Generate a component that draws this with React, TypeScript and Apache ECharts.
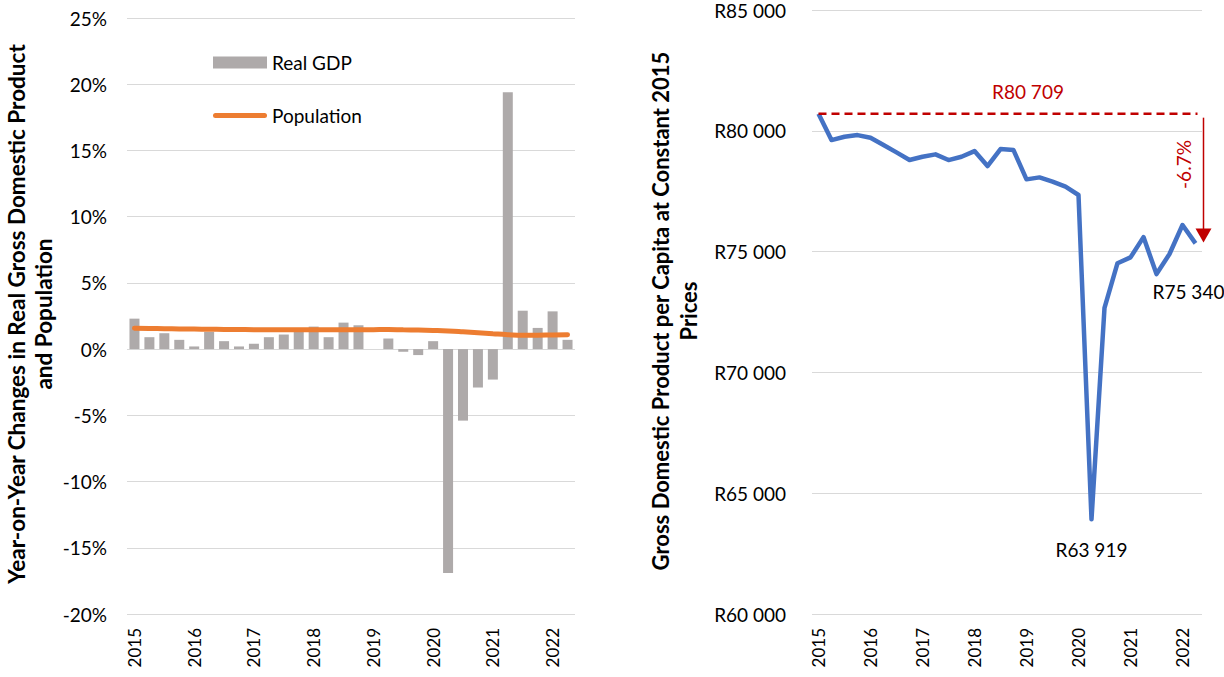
import React, { useEffect, useRef } from "react";
import * as echarts from "echarts";

// Quarterly periods, 2015 Q1 to 2022 Q2
const quarters: string[] = [
  "2015 Q1", "2015 Q2", "2015 Q3", "2015 Q4",
  "2016 Q1", "2016 Q2", "2016 Q3", "2016 Q4",
  "2017 Q1", "2017 Q2", "2017 Q3", "2017 Q4",
  "2018 Q1", "2018 Q2", "2018 Q3", "2018 Q4",
  "2019 Q1", "2019 Q2", "2019 Q3", "2019 Q4",
  "2020 Q1", "2020 Q2", "2020 Q3", "2020 Q4",
  "2021 Q1", "2021 Q2", "2021 Q3", "2021 Q4",
  "2022 Q1", "2022 Q2",
];

// Year-on-year change in real GDP (%)
const realGdp: number[] = [
  2.3, 0.9, 1.2, 0.7, 0.2, 1.3, 0.6, 0.2, 0.4, 0.9, 1.1, 1.4, 1.7, 0.9, 2.0,
  1.8, 0.0, 0.8, -0.2, -0.45, 0.6, -16.9, -5.4, -2.9, -2.3, 19.4, 2.9, 1.6,
  2.85, 0.7,
];

// Year-on-year change in population (%)
const population: number[] = [
  1.58, 1.56, 1.54, 1.52, 1.51, 1.5, 1.49, 1.48, 1.47, 1.47, 1.46, 1.46, 1.46,
  1.46, 1.46, 1.46, 1.47, 1.48, 1.46, 1.44, 1.41, 1.37, 1.31, 1.24, 1.16, 1.09,
  1.05, 1.05, 1.07, 1.08,
];

// Real GDP per capita at constant 2015 prices (Rand)
const gdpPerCapita: number[] = [
  80709, 79616, 79752, 79822, 79711, 79409, 79107, 78790, 78926, 79025, 78789,
  78926, 79161, 78541, 79244, 79202, 77990, 78072, 77893, 77686, 77343, 63919,
  72673, 74520, 74760, 75600, 74070, 74900, 76100, 75340,
];

const pctTicks = { min: -20, max: 25, interval: 5 };
const randTicks = { min: 60000, max: 85000, interval: 5000 };

const FONT = "Lato";
const GRID_COLOR = "#D9D9D9";
const RED = "#C00000";
const TICK_SIZE = 19;
const NOTE_SIZE = 19;

const fmtRand = (v: number) => {
  const th = Math.floor(v / 1000);
  const rest = String(Math.round(v % 1000)).padStart(3, "0");
  return `R${th} ${rest}`;
};

export default function App() {
  const ref = useRef<HTMLDivElement>(null);

  useEffect(() => {
    if (!ref.current) return;
    const chart = echarts.init(ref.current, null, { renderer: "svg" });

    const troughIdx = gdpPerCapita.indexOf(Math.min(...gdpPerCapita));
    const lastIdx = gdpPerCapita.length - 1;

    const perCapitaData = gdpPerCapita.map((v, i) => {
      if (i === troughIdx) {
        return {
          value: v,
          label: { show: true, position: "bottom", distance: 20 },
        };
      }
      if (i === lastIdx) {
        return {
          value: v,
          label: { show: true, position: "bottom", distance: 38, offset: [-7, 0] },
        };
      }
      return v;
    });

    const xAxisCommon = {
      type: "category",
      data: quarters,
      axisLine: { show: false, onZero: false },
      axisTick: { show: false },
      splitLine: { show: false },
      axisLabel: {
        interval: 3,
        rotate: 90,
        formatter: (v: string) => v.slice(0, 4),
        fontSize: 17,
        color: "#000",
        fontFamily: FONT,
        margin: 14,
      },
    };

    const option: any = {
      animation: false,
      backgroundColor: "#fff",
      textStyle: { fontFamily: FONT },
      grid: [
        { left: 127, top: 18, width: 448, height: 596 },
        { left: 812, top: 10, width: 390, height: 604 },
      ],
      xAxis: [
        { ...xAxisCommon, gridIndex: 0 },
        { ...xAxisCommon, gridIndex: 1 },
      ],
      yAxis: [
        {
          type: "value",
          gridIndex: 0,
          ...pctTicks,
          axisLine: { show: false },
          axisTick: { show: false },
          splitLine: { lineStyle: { color: GRID_COLOR, width: 1 } },
          axisLabel: {
            formatter: "{value}%",
            fontSize: TICK_SIZE,
            color: "#000",
            fontFamily: FONT,
            margin: 20,
          },
        },
        {
          type: "value",
          gridIndex: 1,
          ...randTicks,
          axisLine: { show: false },
          axisTick: { show: false },
          splitLine: { lineStyle: { color: GRID_COLOR, width: 1 } },
          axisLabel: {
            formatter: (v: number) => fmtRand(v),
            fontSize: TICK_SIZE,
            color: "#000",
            fontFamily: FONT,
            margin: 26,
          },
        },
      ],
      legend: {
        orient: "vertical",
        left: 208,
        top: 48,
        itemWidth: 54,
        itemHeight: 12,
        itemGap: 34,
        textStyle: { fontSize: NOTE_SIZE, color: "#000", fontFamily: FONT },
        data: [
          { name: "Real GDP", icon: "rect" },
          {
            name: "Population",
            icon: "path://M2.5,0 H51.5 A2.5,2.5 0 0 1 51.5,5 H2.5 A2.5,2.5 0 0 1 2.5,0 Z",
          },
        ],
      },
      series: [
        {
          name: "Real GDP",
          type: "bar",
          xAxisIndex: 0,
          yAxisIndex: 0,
          data: realGdp,
          barWidth: 10,
          itemStyle: { color: "#AEAAAA" },
        },
        {
          name: "Population",
          type: "line",
          xAxisIndex: 0,
          yAxisIndex: 0,
          data: population,
          smooth: true,
          symbol: "none",
          lineStyle: { color: "#ED7D31", width: 5, cap: "round" },
          itemStyle: { color: "#ED7D31" },
        },
        {
          name: "GDP per capita",
          type: "line",
          xAxisIndex: 1,
          yAxisIndex: 1,
          data: perCapitaData,
          symbol: "circle",
          symbolSize: 1,
          showSymbol: true,
          showAllSymbol: true,
          lineStyle: { color: "#4472C4", width: 4.5, join: "round" },
          itemStyle: { color: "rgba(0,0,0,0)" },
          label: {
            formatter: (p: any) => fmtRand(p.value),
            fontSize: NOTE_SIZE,
            color: "#000",
            fontFamily: FONT,
          },
        },
      ],
      graphic: [
        {
          type: "text",
          x: 30,
          y: 314,
          rotation: Math.PI / 2,
          style: {
            text: "Year-on-Year Changes in Real Gross Domestic Product\nand Population",
            fontSize: 22.5,
            fontWeight: "bold",
            fontFamily: FONT,
            fill: "#000",
            align: "center",
            verticalAlign: "middle",
            lineHeight: 27,
          },
        },
        {
          type: "text",
          x: 674,
          y: 311,
          rotation: Math.PI / 2,
          style: {
            text: "Gross Domestic Product per Capita at Constant 2015\nPrices",
            fontSize: 22,
            fontWeight: "bold",
            fontFamily: FONT,
            fill: "#000",
            align: "center",
            verticalAlign: "middle",
            lineHeight: 28,
          },
        },
      ],
    };

    chart.setOption(option);

    // Peak-to-latest annotation on the per-capita panel
    const peak = gdpPerCapita[0];
    const latest = gdpPerCapita[lastIdx];
    const [x0, yPeak] = chart.convertToPixel({ gridIndex: 1 }, [0, peak]) as number[];
    const [xN, yLatest] = chart.convertToPixel({ gridIndex: 1 }, [lastIdx, latest]) as number[];
    const change = ((latest / peak - 1) * 100).toFixed(1);
    const ax = xN + 8;

    chart.setOption({
      graphic: [
        ...option.graphic,
        {
          type: "line",
          shape: { x1: x0, y1: yPeak, x2: xN + 2, y2: yPeak },
          style: { stroke: RED, lineWidth: 2.5, lineDash: [8, 5] },
          z: 10,
        },
        {
          type: "line",
          shape: { x1: ax, y1: yPeak + 4, x2: ax, y2: yLatest - 14 },
          style: { stroke: RED, lineWidth: 1.5 },
          z: 10,
        },
        {
          type: "polygon",
          shape: {
            points: [
              [ax - 8, yLatest - 15],
              [ax + 8, yLatest - 15],
              [ax, yLatest - 1],
            ],
          },
          style: { fill: RED },
          z: 10,
        },
        {
          type: "text",
          x: (x0 + xN) / 2 + 21,
          y: yPeak - 22,
          style: {
            text: fmtRand(peak),
            fontSize: NOTE_SIZE,
            fontFamily: FONT,
            fill: RED,
            align: "center",
            verticalAlign: "middle",
          },
          z: 10,
        },
        {
          type: "text",
          x: ax - 20,
          y: (yPeak + yLatest) / 2 - 14,
          rotation: Math.PI / 2,
          style: {
            text: `${change}%`,
            fontSize: NOTE_SIZE,
            fontFamily: FONT,
            fill: RED,
            align: "center",
            verticalAlign: "middle",
          },
          z: 10,
        },
      ],
    });

    return () => chart.dispose();
  }, []);

  return (
    <div
      ref={ref}
      style={{
        position: "fixed",
        left: 0,
        top: 0,
        width: 1224,
        height: 677,
        background: "#fff",
      }}
    />
  );
}
